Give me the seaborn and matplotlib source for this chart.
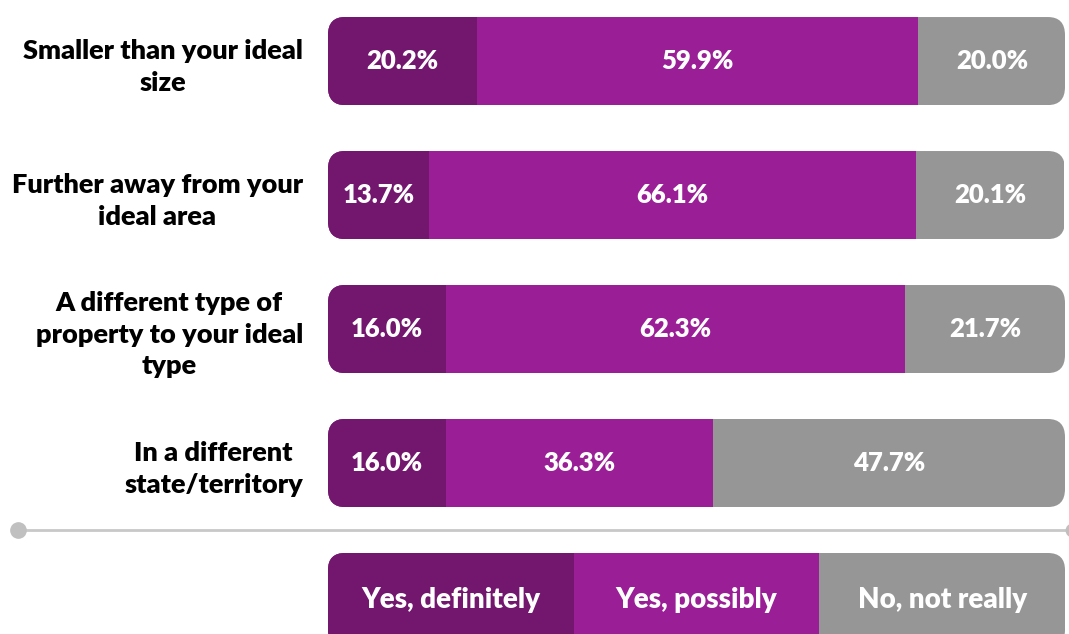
import numpy as np
import pandas as pd
import matplotlib.pyplot as plt
import seaborn as sns
from matplotlib.patches import FancyBboxPatch
from matplotlib.lines import Line2D

# ---- data ----
categories = [
    "Smaller than your ideal\nsize",
    "Further away from your\nideal area",
    "A different type of\nproperty to your ideal\ntype",
    "In a different\nstate/territory",
]
yes_definitely = [20.2, 13.7, 16.0, 16.0]
yes_possibly = [59.9, 66.1, 62.3, 36.3]
no_not_really = [20.0, 20.1, 21.7, 47.7]

legend_labels = ["Yes, definitely", "Yes, possibly", "No, not really"]
legend_share = [1, 1, 1]

colors = ["#72166E", "#9A1E96", "#969696"]

sns.set_theme(style="white")
plt.rcParams["font.family"] = ["Lato", "DejaVu Sans"]
plt.rcParams["font.weight"] = "heavy"

W, H = 1069, 634
fig = plt.figure(figsize=(W / 100, H / 100), dpi=100)


def px_rect(x0, y0, x1, y1):
    return [x0 / W, 1 - y1 / H, (x1 - x0) / W, (y1 - y0) / H]


def stacked(ax, df, cols, height, lab_size):
    # draw cumulative sums from the longest to the shortest so they stack
    cum = df[cols].cumsum(axis=1)
    cum["cat"] = df["cat"]
    for col, c in reversed(list(zip(cols, colors))):
        sns.barplot(data=cum, x=col, y="cat", orient="h", color=c,
                    width=height, saturation=1, ax=ax, edgecolor="none")
    # rounded outline per row, used as clip path
    ax.set_xlim(0, 100)
    bbox = ax.get_window_extent()
    xpx = bbox.width / 100
    nrow = len(df)
    ylo, yhi = ax.get_ylim()
    ypx = bbox.height / abs(yhi - ylo)
    r = 17 / xpx
    aspect = (17 / ypx) / r
    clips = []
    for i in range(nrow):
        fb = FancyBboxPatch((0, i - height / 2), 100, height,
                            boxstyle=f"round,pad=0,rounding_size={r}",
                            mutation_aspect=aspect, transform=ax.transData)
        clips.append(fb)
    for p in ax.patches:
        yc = p.get_y() + p.get_height() / 2
        p.set_clip_path(clips[int(round(yc))])
    # labels inside segments
    left = np.zeros(nrow)
    for col in cols:
        vals = df[col].to_numpy()
        for i, v in enumerate(vals):
            txt = df.loc[i, "txt_" + col]
            ax.text(left[i] + v / 2, i, txt, ha="center", va="center",
                    color="white", fontsize=lab_size, fontweight="heavy")
        left += vals


# ---- main chart ----
ax = fig.add_axes(px_rect(328, 10, 1065, 515))
cols = ["def", "pos", "no"]
df = pd.DataFrame({"cat": categories, "def": yes_definitely,
                   "pos": yes_possibly, "no": no_not_really})
for c in cols:
    df["txt_" + c] = df[c].map(lambda v: f"{v:.1f}%")
ax.set_ylim(3.388, -0.381)
stacked(ax, df, cols, 0.657, 18.5)
ax.set_ylim(3.388, -0.381)
ax.set_xlabel("")
ax.set_ylabel("")
ax.set_xticks([])
ax.tick_params(axis="y", length=0, pad=18)
for lbl in ax.get_yticklabels():
    lbl.set_multialignment("center")
    lbl.set_fontsize(19.5)
    lbl.set_fontweight("heavy")
    lbl.set_color("black")
    lbl.set_linespacing(1.38)
sns.despine(ax=ax, left=True, bottom=True)

# ---- legend bar ----
lax = fig.add_axes(px_rect(328, 553, 1065, 647))
ldf = pd.DataFrame({"cat": ["legend"]})
share = np.array(legend_share, dtype=float)
share = share / share.sum() * 100
for c, s, t in zip(cols, share, legend_labels):
    ldf[c] = [s]
    ldf["txt_" + c] = [t]
lax.set_ylim(0.5, -0.5)
stacked(lax, ldf, cols, 1.0, 20)
lax.set_ylim(0.5, -0.5)
lax.set_axis_off()

# ---- separator line ----
fig.add_artist(Line2D([18 / W, 1.0], [1 - 530 / H] * 2, color="#C8C8C8",
                      lw=2, transform=fig.transFigure))
fig.add_artist(Line2D([18 / W], [1 - 530 / H], marker="o", ms=11,
                      color="#C0C0C0", transform=fig.transFigure))
fig.add_artist(Line2D([1072 / W], [1 - 530 / H], marker="o", ms=9,
                      color="#C0C0C0", transform=fig.transFigure))

fig.savefig("out.png", dpi=100)
